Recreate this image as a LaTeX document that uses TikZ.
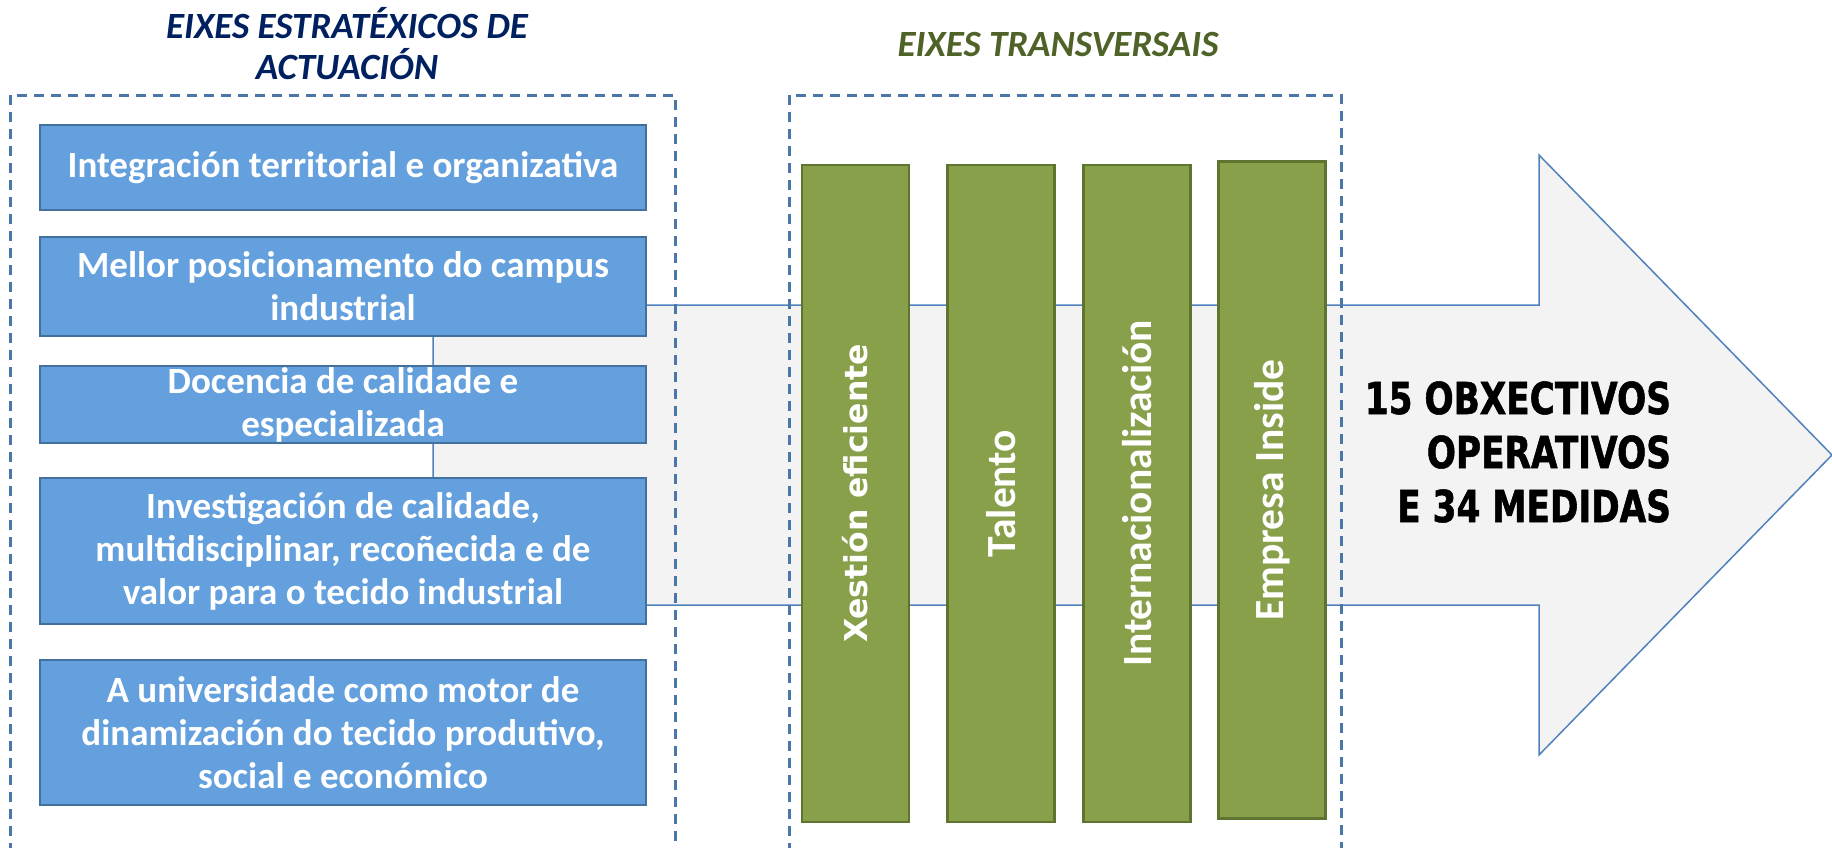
\documentclass[tikz,border=0pt]{standalone}
\usepackage{fontspec}
\setmainfont{Carlito}
\newfontfamily\verdfont{DejaVu Sans}
\newfontfamily\verdnarrow[FakeStretch=0.78,FakeBold=1.2]{DejaVu Sans}
\usepackage{tikz}
\usetikzlibrary{positioning}

\definecolor{axisfill}{RGB}{99,160,221}
\definecolor{axisline}{RGB}{65,113,156}
\definecolor{barfill}{RGB}{137,160,75}
\definecolor{barline}{RGB}{95,117,47}
\definecolor{framecol}{RGB}{74,118,168}
\definecolor{arrowfill}{RGB}{243,243,243}
\definecolor{arrowline}{RGB}{79,129,189}
\definecolor{titlenavy}{RGB}{0,32,96}
\definecolor{titleolive}{RGB}{79,98,40}

\begin{document}
\begin{tikzpicture}[x=0.5pt, y=-0.5pt,
  axisbox/.style={draw=axisline, fill=axisfill, line width=1.2pt, text=white,
    font=\fontsize{18.5}{21.5}\selectfont\bfseries, align=center,
    minimum width=303pt, inner sep=0pt},
  crossbar/.style={draw=barline, fill=barfill, line width=1.2pt, text=white,
    rotate=90, minimum width=328.5pt, minimum height=53.5pt, inner sep=0pt,
    font=\fontsize{20.75}{24}\selectfont\bfseries},
  frame/.style={draw=framecol, line width=1.5pt, dash pattern=on 5pt off 3.5pt},
  heading/.style={font=\fontsize{18.5}{20.5}\selectfont\bfseries\itshape, align=center}]
  \useasboundingbox (0,0) rectangle (1832,847);

  % Headings
  \node[heading, text=titlenavy] (tstrat) at (347,44) {EIXES ESTRATÉXICOS DE\\ACTUACIÓN};
  \node[heading, text=titleolive] (ttrans) at (1058,45) {EIXES TRANSVERSAIS};

  % Big arrow behind everything
  \draw[draw=arrowline, fill=arrowfill, line width=0.75pt]
    (433,305) -- (1539,305) -- (1539,155) -- (1832,455) -- (1539,755)
    -- (1539,605) -- (433,605) -- cycle;
  \node[anchor=east, align=right, font=\verdnarrow\fontsize{22}{27}\selectfont\bfseries]
    (goals) at (1678,452) {15 OBXECTIVOS\\OPERATIVOS\\E 34 MEDIDAS};

  % Dashed frames
  \draw[frame] (10,870) -- (10,95) -- (675,95) -- (675,870);
  \draw[frame] (789,870) -- (789,95) -- (1341,95) -- (1341,870);

  % Strategic axes
  \node[axisbox, minimum height=42.5pt] (ax1) at (343,167.5) {Integración territorial e organizativa};
  \node[axisbox, minimum height=49.5pt] (ax2) at (343,286.5) {Mellor posicionamento do campus\\industrial};
  \node[axisbox, minimum height=38.5pt] (ax3) at (343,404.5) {Docencia de calidade e\\especializada};
  \node[axisbox, minimum height=73pt] (ax4) at (343,551) {Investigación de calidade,\\multidisciplinar, recoñecida e de\\valor para o tecido industrial};
  \node[axisbox, minimum height=72.5pt] (ax5) at (343,732.5) {A universidade como motor de\\dinamización do tecido produtivo,\\social e económico};

  % Transversal axes
  \node[crossbar, font=\verdfont\fontsize{15.75}{18}\selectfont\bfseries] (cb1) at (855.5,493.5) {Xestión eficiente};
  \node[crossbar] (cb2) at (1001,493.5) {Talento};
  \node[crossbar] (cb3) at (1137,493.5) {Internacionalización};
  \node[crossbar] (cb4) at (1272,490) {Empresa Inside};
\end{tikzpicture}
\end{document}
